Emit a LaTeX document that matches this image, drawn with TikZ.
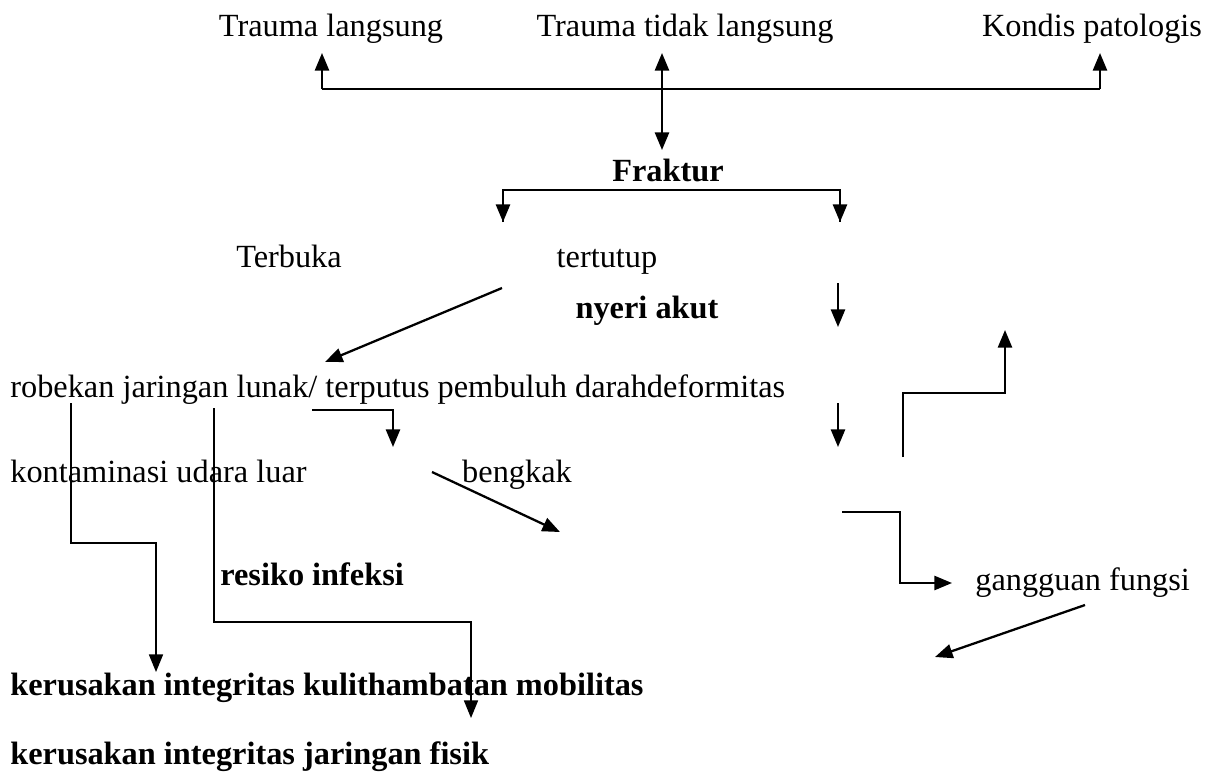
\documentclass[tikz,border=0pt]{standalone}
\usepackage{fontspec}
\setmainfont{Liberation Serif}
\usetikzlibrary{arrows.meta}

\begin{document}
\begin{tikzpicture}[
    x=0.02cm, y=-0.02cm,
    every node/.style={font=\fontsize{18.4}{22}\selectfont, inner sep=0pt, anchor=base},
    bold/.style={font=\fontsize{18.4}{22}\selectfont\bfseries},
    line/.style={line width=1.3pt},
    thin line/.style={line width=0.8pt},
    tip/.style={-{Triangle[length=10pt,width=8pt]}},
    arr/.style={line, tip},
    thin arr/.style={thin line, tip},
    darr/.style={line, {Triangle[length=10pt,width=8pt]}-{Triangle[length=10pt,width=8pt]}}
]
\useasboundingbox (0,0) rectangle (1221,772);

% texts
\node (T1) at (331,36) {Trauma langsung};
\node (T2) at (685,36) {Trauma tidak langsung};
\node (T3) at (1092,36) {Kondis patologis};
\node[bold] (F) at (668,181) {Fraktur};
\node (A) at (289,267) {Terbuka};
\node (B) at (607,267) {tertutup};
\node[bold] (N) at (647,318) {nyeri akut};
\node[anchor=base west] (R) at (10,397) {robekan jaringan lunak/ terputus pembuluh darahdeformitas};
\node[anchor=base west] (K) at (10,482) {kontaminasi udara luar};
\node (BK) at (517,482) {bengkak};
\node[bold, anchor=base west] (I) at (220,585) {resiko infeksi};
\node[anchor=base west] (GF) at (975,590) {gangguan fungsi};
\node[bold, anchor=base west] (KK) at (10,695) {kerusakan integritas kulithambatan mobilitas};
\node[bold, anchor=base west] (KJ) at (10,764) {kerusakan integritas jaringan fisik};

% connector points
\coordinate (a1) at (322,89);   \coordinate (a1-t) at (322,53);
\coordinate (a2) at (1100,89);  \coordinate (a2-t) at (1100,53);
\coordinate (m1) at (662,53);   \coordinate (m2) at (662,150);
\coordinate (b1) at (503,190);  \coordinate (b1-t) at (503,222);
\coordinate (b2) at (840,190);  \coordinate (b2-t) at (840,222);
\coordinate (c0) at (502,288);  \coordinate (c1) at (325,362);
\coordinate (d1) at (838,283);  \coordinate (d1-t) at (838,327);
\coordinate (d2) at (838,403);  \coordinate (d2-t) at (838,447);
\coordinate (e0) at (903,457);  \coordinate (e1) at (1005,393);  \coordinate (e2) at (1005,330);
\coordinate (f0) at (312,410);  \coordinate (f1) at (393,447);
\coordinate (g0) at (71,403);   \coordinate (g1) at (156,543);   \coordinate (g2) at (156,672);
\coordinate (h0) at (214,408);  \coordinate (h1) at (471,622);   \coordinate (h2) at (471,718);
\coordinate (i0) at (432,472);  \coordinate (i1) at (560,532);
\coordinate (j0) at (842,512);  \coordinate (j1) at (900,583);   \coordinate (j2) at (952,583);
\coordinate (k0) at (1085,605); \coordinate (k1) at (935,657);

% connectors
\draw[line] (a1) -- (a2);
\draw[arr] (a1) -- (a1-t);
\draw[arr] (a2) -- (a2-t);
\draw[darr] (m1) -- (m2);
\draw[line] (b1-t) |- (b2) -- (b2-t);
\draw[arr] (b1) -- (b1-t);
\draw[arr] (b2) -- (b2-t);
\draw[arr] (c0) -- (c1);
\draw[arr] (d1) -- (d1-t);
\draw[arr] (d2) -- (d2-t);
\draw[arr] (e0) |- (e1) -- (e2);
\draw[arr] (f0) -| (f1);
\draw[thin arr] (g0) |- (g1) -- (g2);
\draw[thin arr] (h0) |- (h1) -- (h2);
\draw[arr] (i0) -- (i1);
\draw[arr] (j0) -| (j1) -- (j2);
\draw[arr] (k0) -- (k1);

\end{tikzpicture}
\end{document}
